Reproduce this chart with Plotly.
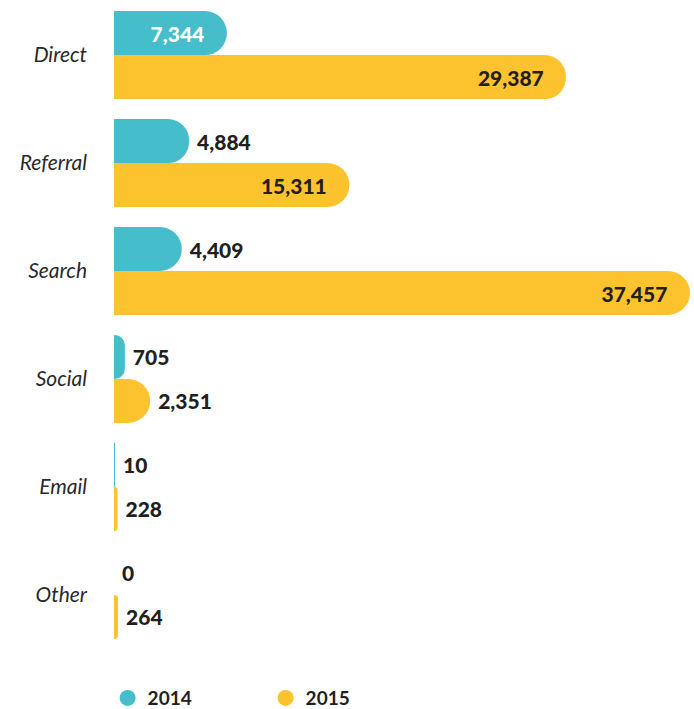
import plotly.graph_objects as go

# Sessions by traffic source, two years side by side
categories = ["Direct", "Referral", "Search", "Social", "Email", "Other"]
values_2014 = [7344, 4884, 4409, 705, 10, 0]
values_2015 = [29387, 15311, 37457, 2351, 228, 264]
years = ["2014", "2015"]

TEAL = "#46BDCA"
GOLD = "#FDC32E"
DARK = "#231F20"

pos_2014 = ["inside", "outside", "outside", "outside", "outside", "outside"]
pos_2015 = ["inside", "inside", "inside", "outside", "outside", "outside"]

NBSP = "\u00a0"


def label_templates(positions):
    # pad inside labels away from the rounded end, outside labels away from the bar
    return [
        "%{x:,}" + NBSP * 3 if p == "inside" else NBSP + "%{x:,}"
        for p in positions
    ]


VALUE_FONT = dict(family="Lato", size=21, weight=900)

fig = go.Figure()

fig.add_trace(go.Bar(
    y=categories, x=values_2014, orientation="h", name=years[0],
    marker=dict(color=TEAL, cornerradius="50%", line=dict(width=0)),
    texttemplate=label_templates(pos_2014), textposition=pos_2014,
    insidetextanchor="end", constraintext="none", cliponaxis=False,
    insidetextfont=dict(VALUE_FONT, color="white"),
    outsidetextfont=dict(VALUE_FONT, color=DARK),
    showlegend=False, hoverinfo="skip",
))
fig.add_trace(go.Bar(
    y=categories, x=values_2015, orientation="h", name=years[1],
    marker=dict(color=GOLD, cornerradius="50%", line=dict(width=0)),
    texttemplate=label_templates(pos_2015), textposition=pos_2015,
    insidetextanchor="end", constraintext="none", cliponaxis=False,
    insidetextfont=dict(VALUE_FONT, color=DARK),
    outsidetextfont=dict(VALUE_FONT, color=DARK),
    showlegend=False, hoverinfo="skip",
))

# Circular legend swatches
for name, color in zip(years, [TEAL, GOLD]):
    fig.add_trace(go.Scatter(
        x=[None], y=[None], mode="markers", name=name,
        marker=dict(color=color, size=16, symbol="circle"),
        showlegend=True,
    ))

fig.update_layout(
    width=694, height=709,
    margin=dict(l=114, r=0, t=0, b=59, autoexpand=False),
    paper_bgcolor="white", plot_bgcolor="white",
    barmode="group", bargap=0.185, bargroupgap=0,
    xaxis=dict(range=[0, 37717], visible=False, fixedrange=True),
    yaxis=dict(
        range=[5.51, -0.51], showgrid=False, zeroline=False, showline=False,
        ticks="", ticklabelstandoff=26,
        tickfont=dict(family="Lato", size=21, color="#2a2a2a", style="italic"),
    ),
    legend=dict(
        orientation="h", x=-0.011, xanchor="left", y=-0.074, yanchor="middle",
        font=dict(family="Lato", size=19, color=DARK, weight="bold"),
        entrywidth=113, entrywidthmode="pixels", itemsizing="trace",
        bgcolor="rgba(0,0,0,0)",
    ),
    font=dict(family="Lato"),
)

fig.write_html("out.html")
